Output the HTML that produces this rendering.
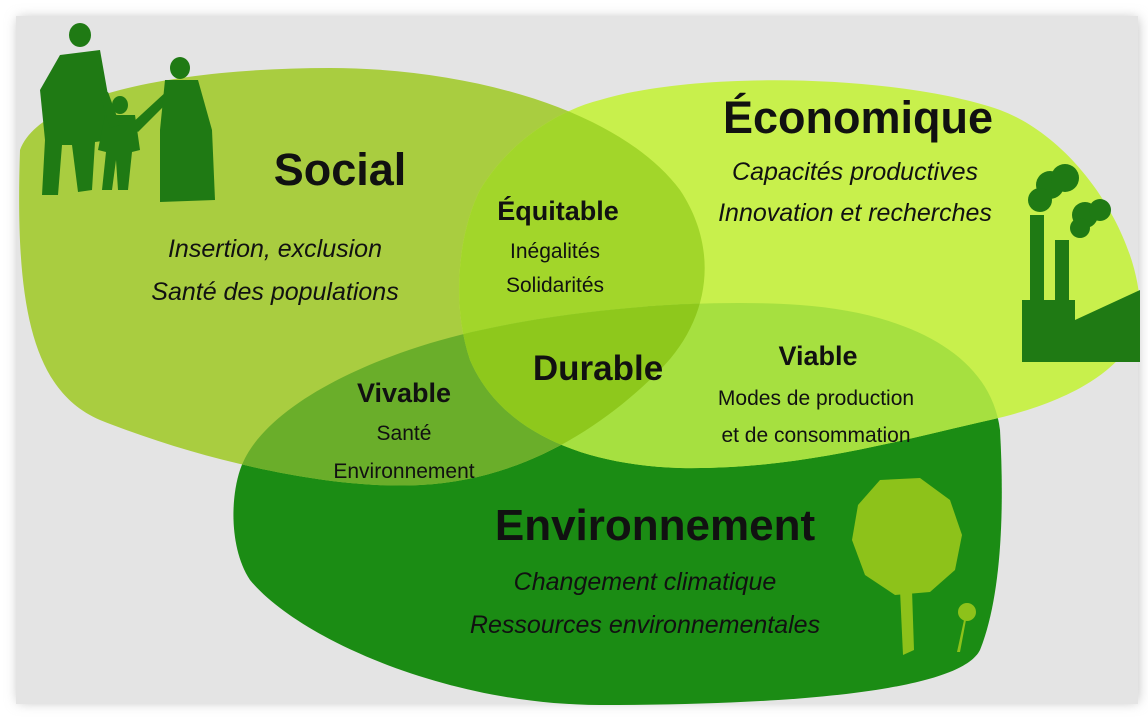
<!DOCTYPE html>
<html><head><meta charset="utf-8"><style>
html,body{margin:0;padding:0;background:#fff;}
svg{display:block;}
text{font-family:"Liberation Sans",sans-serif;fill:#111;}
.b{font-weight:bold;}
.i{font-style:italic;}
</style></head><body>
<svg width="1148" height="722" viewBox="0 0 1148 722" xmlns="http://www.w3.org/2000/svg">
<defs>
<filter id="sh" x="-5%" y="-5%" width="110%" height="110%"><feGaussianBlur stdDeviation="6"/></filter>
<path id="soc" d="M20,150 C40,95 180,68 330,68 C470,68 620,110 680,190 C720,250 710,320 660,370 C600,430 520,480 420,485 C330,490 200,460 100,420 C30,390 15,300 20,150 Z"/>
<path id="eco" d="M600,100 C700,70 900,75 1000,110 C1080,140 1140,240 1140,310 C1140,360 1080,400 990,420 C900,440 800,470 680,468 C580,465 500,430 470,360 C450,300 460,230 480,190 C510,140 560,110 600,100 Z"/>
<path id="env" d="M240,470 C260,410 360,360 460,335 C560,310 700,298 800,305 C900,312 990,350 1000,430 C1005,520 1000,600 980,650 C960,690 800,705 600,705 C450,705 300,640 250,580 C230,550 230,500 240,470 Z"/>
<clipPath id="cSoc"><use href="#soc"/></clipPath>
<clipPath id="cEco"><use href="#eco"/></clipPath>
<clipPath id="cEnv"><use href="#env"/></clipPath>
</defs>
<rect x="0" y="0" width="1148" height="722" fill="#fff"/>
<rect x="18" y="18" width="1120" height="684" fill="#bdbdbd" filter="url(#sh)"/>
<rect x="16" y="16" width="1122" height="688" fill="#e4e4e4"/>

<use href="#env" fill="#1b8c14"/>
<use href="#soc" fill="#a9cd40"/>
<use href="#eco" fill="#c8f04c"/>
<g clip-path="url(#cSoc)"><use href="#eco" fill="#a2d62a"/></g>
<g clip-path="url(#cSoc)"><use href="#env" fill="#6aae2a"/></g>
<g clip-path="url(#cEco)"><use href="#env" fill="#a6e040"/></g>
<g clip-path="url(#cSoc)"><g clip-path="url(#cEco)"><use href="#env" fill="#8ec81c"/></g></g>

<!-- people -->
<g fill="#1f7a14">
<ellipse cx="80" cy="35" rx="11" ry="12"/>
<path d="M60,55 L100,50 L108,95 L110,140 L95,142 L92,190 L78,192 L72,145 L62,145 L58,195 L42,195 L45,140 L40,90 Z"/>
<ellipse cx="120" cy="105" rx="8" ry="9"/>
<path d="M105,115 L135,115 L140,150 L132,152 L128,190 L118,190 L116,160 L112,190 L102,190 L106,152 L98,150 Z"/>
<path d="M100,95 L108,92 L120,125 L110,128 Z"/>
<path d="M130,125 L168,90 L172,98 L138,132 Z"/>
<ellipse cx="180" cy="68" rx="10" ry="11"/>
<path d="M165,80 L198,80 L212,130 L215,200 L160,202 L160,130 Z"/>
</g>
<!-- factory -->
<g fill="#1f7a14">
<circle cx="1050" cy="185" r="14"/><circle cx="1065" cy="178" r="14"/><circle cx="1040" cy="200" r="12"/>
<circle cx="1085" cy="215" r="13"/><circle cx="1100" cy="210" r="11"/><circle cx="1080" cy="228" r="10"/>
<rect x="1030" y="215" width="14" height="90"/>
<rect x="1055" y="240" width="14" height="70"/>
<path d="M1022,300 L1075,300 L1075,320 L1140,290 L1140,362 L1022,362 Z"/>
</g>
<!-- tree -->
<g fill="#8dc21a">
<path d="M880,480 L920,478 L950,500 L962,535 L955,570 L930,592 L895,595 L865,575 L852,540 L858,505 Z"/>
<path d="M900,590 L912,590 L914,650 L903,655 Z"/>
<circle cx="967" cy="612" r="9"/>
<path d="M964,620 L966,620 L960,652 L957,652 Z"/>
</g>

<text class="b" x="340" y="185" font-size="45" text-anchor="middle">Social</text>
<text class="i" x="275" y="257" font-size="25" text-anchor="middle">Insertion, exclusion</text>
<text class="i" x="275" y="300" font-size="25" text-anchor="middle">Santé des populations</text>

<text class="b" x="858" y="133" font-size="45" text-anchor="middle">Économique</text>
<text class="i" x="855" y="180" font-size="25" text-anchor="middle">Capacités productives</text>
<text class="i" x="855" y="221" font-size="25" text-anchor="middle">Innovation et recherches</text>

<text class="b" x="558" y="220" font-size="27" text-anchor="middle">Équitable</text>
<text x="555" y="258" font-size="21" text-anchor="middle">Inégalités</text>
<text x="555" y="292" font-size="21" text-anchor="middle">Solidarités</text>

<text class="b" x="598" y="380" font-size="35" text-anchor="middle">Durable</text>

<text class="b" x="818" y="365" font-size="27" text-anchor="middle">Viable</text>
<text x="816" y="405" font-size="21" text-anchor="middle">Modes de production</text>
<text x="816" y="442" font-size="21" text-anchor="middle">et de consommation</text>

<text class="b" x="404" y="402" font-size="27" text-anchor="middle">Vivable</text>
<text x="404" y="440" font-size="21" text-anchor="middle">Santé</text>
<text x="404" y="478" font-size="21" text-anchor="middle">Environnement</text>

<text class="b" x="655" y="540" font-size="44" text-anchor="middle">Environnement</text>
<text class="i" x="645" y="590" font-size="25" text-anchor="middle">Changement climatique</text>
<text class="i" x="645" y="633" font-size="25" text-anchor="middle">Ressources environnementales</text>
</svg>
</body></html>
